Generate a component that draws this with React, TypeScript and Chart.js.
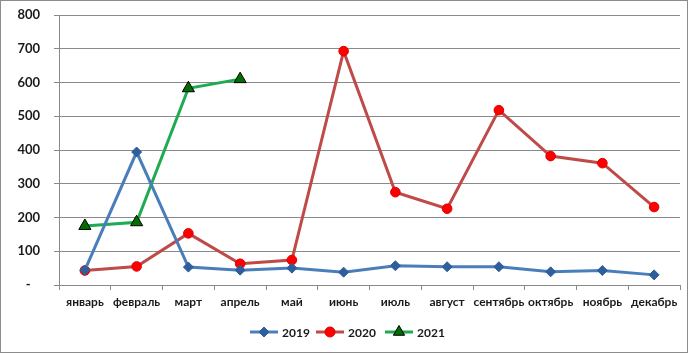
import React, { useEffect, useRef } from "react";
import Chart from "chart.js/auto";

const categories = ["январь", "февраль", "март", "апрель", "май", "июнь", "июль", "август", "сентябрь", "октябрь", "ноябрь", "декабрь"];
const series2019 = [44, 394, 53, 44, 50, 38, 57, 54, 54, 39, 43, 30];
const series2020 = [43, 55, 153, 63, 74, 693, 275, 226, 518, 382, 361, 231];
const series2021 = [175, 186, 583, 610];
const seriesLabels = ["2019", "2020", "2021"];
const yTicks = [0, 100, 200, 300, 400, 500, 600, 700, 800];

const FONT = "Lato, 'Liberation Sans', sans-serif";
const GRID = "#8a8a8a";

const styles = [
  { line: "#4A7EBB", fill: "#2F5E9C", border: "#2F5E9C", style: "rectRot", r: 5, bw: 1 },
  { line: "#BE4B48", fill: "#FF0000", border: "#E00000", style: "circle", r: 4.8, bw: 1 },
  { line: "#1FAB52", fill: "#006E00", border: "#000000", style: "triangle", r: 7, bw: 1 },
];

const framePlugin = {
  id: "frame",
  beforeDraw(chart: any) {
    const { ctx, width, height } = chart;
    ctx.save();
    ctx.fillStyle = "#ffffff";
    ctx.fillRect(0, 0, width, height);
    ctx.restore();
  },
  afterDraw(chart: any) {
    const { ctx, width, height } = chart;
    ctx.save();
    ctx.strokeStyle = "#8c8c8c";
    ctx.lineWidth = 1;
    ctx.strokeRect(0.5, 0.5, width - 1, height - 2);
    // legend
    const y = 332;
    const starts = [250, 316, 385];
    ctx.font = `bold 12px ${FONT}`;
    ctx.textBaseline = "middle";
    ctx.textAlign = "left";
    seriesLabels.forEach((lab, i) => {
      const s = styles[i];
      const x0 = starts[i];
      ctx.strokeStyle = s.line;
      ctx.lineWidth = 3;
      ctx.beginPath();
      ctx.moveTo(x0, y);
      ctx.lineTo(x0 + 28, y);
      ctx.stroke();
      ctx.fillStyle = s.fill;
      ctx.strokeStyle = s.border;
      ctx.lineWidth = s.bw;
      const cx = x0 + 14;
      ctx.beginPath();
      if (s.style === "rectRot") {
        const r = 5;
        ctx.moveTo(cx, y - r);
        ctx.lineTo(cx + r, y);
        ctx.lineTo(cx, y + r);
        ctx.lineTo(cx - r, y);
        ctx.closePath();
      } else if (s.style === "circle") {
        ctx.arc(cx, y, 5, 0, Math.PI * 2);
      } else {
        const r = 6.5;
        ctx.moveTo(cx, y - r);
        ctx.lineTo(cx + r * 0.866, y + r * 0.5);
        ctx.lineTo(cx - r * 0.866, y + r * 0.5);
        ctx.closePath();
      }
      ctx.fill();
      ctx.stroke();
      ctx.fillStyle = "#1a1a1a";
      ctx.fillText(lab, x0 + 32, y + 1);
    });
    ctx.restore();
  },
};

export default function App() {
  const ref = useRef<HTMLCanvasElement>(null);
  useEffect(() => {
    if (!ref.current) return;
    const data = [series2019, series2020, series2021];
    const chart = new Chart(ref.current, {
      type: "line",
      data: {
        labels: categories,
        datasets: data.map((d, i) => ({
          label: seriesLabels[i],
          data: d,
          borderColor: styles[i].line,
          borderWidth: 3,
          backgroundColor: styles[i].fill,
          pointBackgroundColor: styles[i].fill,
          pointBorderColor: styles[i].border,
          pointBorderWidth: styles[i].bw,
          pointStyle: styles[i].style as any,
          pointRadius: styles[i].r,
          tension: 0,
          fill: false,
        })),
      },
      options: {
        animation: false,
        responsive: false,
        maintainAspectRatio: false,
        layout: { padding: { top: 15, right: 5, bottom: 39, left: 0 } },
        plugins: {
          legend: { display: false },
          tooltip: { enabled: false },
        },
        scales: {
          x: {
            offset: true,
            grid: { offset: true, drawOnChartArea: false, drawTicks: true, tickLength: 5, color: GRID },
            border: { display: true, color: GRID, width: 1 },
            ticks: { color: "#1a1a1a", font: { family: FONT, size: 12, weight: "bold" }, padding: 5, maxRotation: 0, autoSkip: false },
            afterFit(scale: any) { scale.height = 30; },
          },
          y: {
            min: 0,
            max: 800,
            afterBuildTicks(scale: any) { scale.ticks = yTicks.map((v) => ({ value: v })); },
            grid: { color: GRID, drawTicks: true, tickLength: 5 },
            border: { display: true, color: GRID, width: 1 },
            ticks: {
              color: "#1a1a1a",
              font: { family: FONT, size: 13, weight: "bold" },
              padding: 14,
              callback: (v: any) => (v === 0 ? "-   " : String(v)),
            },
            afterFit(scale: any) {
              scale.width = 59;
              scale.paddingTop = 0;
              scale.paddingBottom = 0;
            },
          },
        },
      },
      plugins: [framePlugin],
    });
    return () => chart.destroy();
  }, []);
  return (
    <div style={{ position: "fixed", left: 0, top: 0, width: 688, height: 354 }}>
      <canvas ref={ref} width={688} height={354} style={{ display: "block", width: 688, height: 354 }} />
    </div>
  );
}
